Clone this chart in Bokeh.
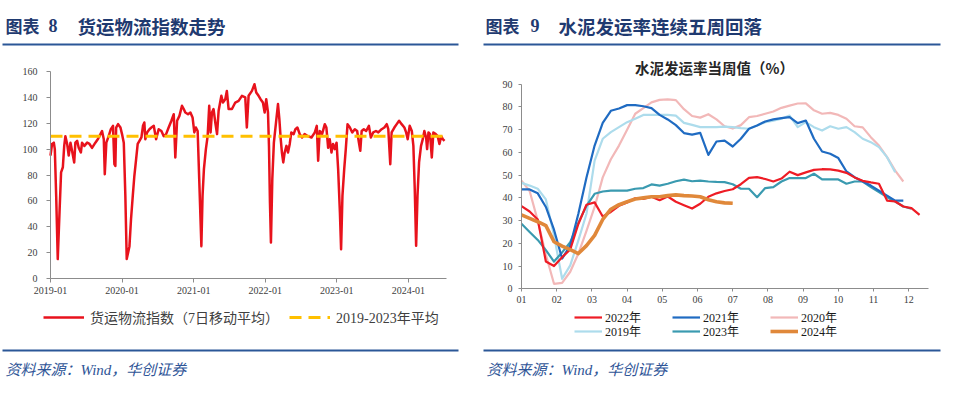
from datetime import datetime
from bokeh.plotting import figure
from bokeh.models import (Range1d, FixedTicker, Legend, LegendItem, SingleIntervalTicker,
                          LinearAxis, DatetimeAxis)
from bokeh.embed import file_html
from bokeh.resources import INLINE
from bokeh.core.properties import value

# ---------------- data: chart 8 (freight logistics index, 7-day MA) ----------------
freight_dates = [
    "2019-01-01", "2019-01-09", "2019-01-18", "2019-01-23", "2019-01-30", "2019-02-07", "2019-02-16", "2019-02-24",
    "2019-03-05", "2019-03-12", "2019-03-18", "2019-03-27", "2019-04-04", "2019-04-13", "2019-04-21", "2019-05-02",
    "2019-05-08", "2019-05-17", "2019-05-25", "2019-06-05", "2019-06-11", "2019-06-23", "2019-07-07", "2019-07-19",
    "2019-08-01", "2019-08-18", "2019-09-01", "2019-09-13", "2019-09-21", "2019-09-30", "2019-10-05", "2019-10-13",
    "2019-10-25", "2019-11-05", "2019-11-16", "2019-11-23", "2019-11-28", "2019-12-02", "2019-12-12", "2019-12-24",
    "2020-01-01", "2020-01-10", "2020-01-18", "2020-01-25", "2020-02-01", "2020-02-08", "2020-02-16", "2020-02-25",
    "2020-03-04", "2020-03-13", "2020-03-21", "2020-03-30", "2020-04-09", "2020-04-17", "2020-04-24", "2020-04-29",
    "2020-05-08", "2020-05-20", "2020-05-30", "2020-06-11", "2020-06-23", "2020-07-06", "2020-07-20", "2020-08-01",
    "2020-08-13", "2020-08-26", "2020-09-09", "2020-09-21", "2020-09-29", "2020-10-08", "2020-10-20", "2020-11-02",
    "2020-11-11", "2020-11-19", "2020-12-03", "2020-12-15", "2020-12-26",
    "2021-01-04", "2021-01-12", "2021-01-21", "2021-01-29", "2021-02-09", "2021-02-15", "2021-02-22", "2021-03-04",
    "2021-03-13", "2021-03-21", "2021-03-28", "2021-04-04", "2021-04-12", "2021-04-21", "2021-04-30", "2021-05-08",
    "2021-05-22", "2021-05-30", "2021-06-11", "2021-06-19", "2021-06-28", "2021-07-15", "2021-08-01", "2021-08-18",
    "2021-09-04", "2021-09-21", "2021-09-29", "2021-10-08", "2021-10-25", "2021-11-07", "2021-11-16", "2021-11-28",
    "2021-12-08", "2021-12-20", "2021-12-29",
    "2022-01-06", "2022-01-15", "2022-01-20", "2022-01-25", "2022-01-30", "2022-02-06", "2022-02-14", "2022-02-25",
    "2022-03-07", "2022-03-14", "2022-03-21", "2022-03-27", "2022-04-03", "2022-04-10", "2022-04-19", "2022-04-27",
    "2022-05-06", "2022-05-14", "2022-05-26", "2022-06-04", "2022-06-14", "2022-06-26", "2022-07-08", "2022-07-21",
    "2022-08-07", "2022-08-25", "2022-09-11", "2022-09-21", "2022-09-28", "2022-10-06", "2022-10-18", "2022-11-01",
    "2022-11-09", "2022-11-18", "2022-11-26", "2022-12-05", "2022-12-13", "2022-12-22", "2022-12-31",
    "2023-01-08", "2023-01-17", "2023-01-23", "2023-01-30", "2023-02-08", "2023-02-16", "2023-02-25", "2023-03-09",
    "2023-03-21", "2023-04-03", "2023-04-15", "2023-04-24", "2023-05-01", "2023-05-08", "2023-05-19", "2023-05-31",
    "2023-06-14", "2023-06-24", "2023-07-06", "2023-07-20", "2023-08-01", "2023-08-18", "2023-09-01", "2023-09-13",
    "2023-09-21", "2023-10-01", "2023-10-08", "2023-10-22", "2023-11-03", "2023-11-15", "2023-11-28", "2023-12-12",
    "2023-12-21", "2023-12-29",
    "2024-01-08", "2024-01-19", "2024-01-27", "2024-02-03", "2024-02-10", "2024-02-17", "2024-02-25", "2024-03-06",
    "2024-03-15", "2024-03-23", "2024-04-01", "2024-04-06", "2024-04-13", "2024-04-21", "2024-04-30", "2024-05-08",
    "2024-05-20", "2024-05-30", "2024-06-08", "2024-06-17", "2024-06-25", "2024-07-04",
]
freight_values = [
    95, 104, 105, 100, 64, 15, 51, 82,
    86, 102.5, 110, 104, 95, 105, 98.7, 89.7,
    105, 106.4, 101, 97.4, 105, 102.5, 105, 104,
    101, 105, 108, 111.6, 114, 107.7, 80.6, 105,
    110, 115.4, 118, 88.4, 87, 116.7, 119.3, 116.7,
    111.6, 105, 64, 15, 20, 25, 46, 64,
    79.4, 92.2, 104, 106.4, 109, 118, 120.6, 107.7,
    112.9, 115.4, 116.7, 118, 107.7, 115.4, 114, 110,
    111.6, 116.7, 121.9, 127, 93.5, 121.9, 125.7, 133.5,
    131, 128.3, 127, 128.3, 124.5,
    112.9, 116.7, 114, 76.8, 25, 64, 84.5, 100,
    110, 133.5, 112.9, 128.3, 131, 120.6, 111.6, 129.6,
    141.2, 136, 138.6, 145, 131, 131, 136, 137.3,
    141.2, 140, 116.7, 141.2, 145, 150.2, 143.8, 141.2,
    138.6, 136, 128.3,
    138.6, 128.3, 102.5, 58.7, 27.8, 76.8, 105, 120.6,
    134.8, 123.2, 107.7, 97.4, 89.7, 97.4, 102.5, 97.4,
    104, 112.9, 111.6, 115.4, 116.7, 111.6, 109, 111.6,
    110, 109, 112.9, 118, 91, 114, 111.6, 119.3,
    116.7, 101, 107.7, 97.4, 104, 100, 105,
    84.5, 51, 22.7, 64, 84.5, 100, 119.3, 116.7,
    112.9, 115.4, 114, 105, 98.7, 114, 115.4, 114,
    118, 109, 112.9, 114, 112.9, 115.4, 116.7, 119.3,
    115.4, 88.4, 112.9, 116.7, 119.3, 121.9, 119.3, 116.7,
    112.9, 107.7,
    118, 114, 102.5, 69, 25.3, 64, 89.7, 102.5,
    107.7, 114, 109, 100, 112.9, 111.6, 93.5, 112.9,
    111.6, 110, 104, 110, 107.7, 106.4,
]
avg_2019_2023 = 110
freight_tick_labels = ["2019-01", "2020-01", "2021-01", "2022-01", "2023-01", "2024-01"]
freight_x_start = "2019-01-01"
freight_x_end = "2024-07-14"
freight_y_max = 160

# ---------------- data: chart 9 (cement shipment rate, weekly, %) ----------------
month_labels = ["01", "02", "03", "04", "05", "06", "07", "08", "09", "10", "11", "12"]
cement_2022 = [36.4, 34, 30.5, 12, 10, 13.9, 17.3, 28.5, 37, 38,
               31.8, 33.8, 36.5, 38, 39.8, 39.5, 40.5, 39, 40.6, 38.3,
               36.8, 35.3, 37.4, 40.5, 42, 43, 43.8, 46, 48.8, 49.1,
               48.3, 47.2, 48.5, 51.5, 50, 51.2, 52.3, 52.6, 52.5, 52,
               51, 49, 47.5, 46.8, 46.2, 38.8, 38.4, 36.2, 35.5, 32.5]
cement_2021 = [43.7, 43.7, 42, 36, 26, 13.3, 19, 33, 49, 63,
               73, 78.3, 79.3, 80.8, 80.8, 80.3, 79.5, 76.5, 74.5, 72,
               68.5, 67.8, 68.6, 58.9, 64.8, 65.2, 62.6, 66, 70.4, 71.8,
               73.6, 74.5, 75.1, 75.5, 72.9, 74, 66, 60.4, 59.4, 57.5,
               51.6, 49.1, 47.2, 45.4, 43.2, 41, 38.8, 38.8]
cement_2020 = [47.6, 43, 30, 15, 2.2, 2.6, 7.5, 15.5, 25.5, 36,
               49, 57, 63, 70, 77, 79.5, 82, 83.1, 83.3, 83,
               79, 76, 75.3, 76.8, 74.5, 71.5, 70.5, 72, 75.5, 76,
               77, 78, 79.6, 80.6, 81.5, 81.6, 78.5, 77, 77.4, 76.5,
               74.8, 71.5, 71, 66.7, 63, 57.9, 52, 47.2]
cement_2019 = [46.6, 45.4, 44, 39.3, 23.5, 4.4, 10.3, 21.3, 33, 56.4,
               66, 68.9, 71.1, 73.3, 74.8, 76.5, 76.5, 76.5, 76.5, 76.2,
               73, 72.1, 71.1, 71.1, 71.1, 71.3, 71.1, 70.7, 70.4, 71.8,
               73.3, 74, 74.8, 76.2, 71.1, 73.3, 71.1, 69.6, 71.5, 70.4,
               71.1, 68.9, 66, 64.5, 62.3, 57.9, 51.3]
cement_2023 = [28.6, 25, 21.5, 17, 12, 16, 20.5, 29, 36.5, 41.8,
               42.8, 43.2, 43.2, 43.2, 44, 44.3, 45.9, 45.4, 46.2, 47.3,
               48, 47.3, 47.6, 47.2, 47, 46.9, 46, 44, 44, 40.3,
               44.3, 44.7, 47.2, 48.7, 48.7, 48.7, 50.6, 48.1, 48.1, 48.1,
               46.2, 47.2, 47.2, 44.7, 42.5, 40.3, 38.4, 36.2, 35.2]
cement_2024 = [32.5, 31, 29.5, 27.8, 20.7, 18.8, 17.2, 15.5, 19, 23.5,
               30.5, 35, 37, 38.3, 39.5, 40, 40.5, 40.5, 41, 41.3,
               41, 40.8, 40.5, 39.2, 38.3, 37.8, 37.6]
weeks_per_year = 52
cement_x_max = 50.1   # weeks shown on the axis
cement_y_max = 90

# ---------------- page layout (pixels) ----------------
W, H = 956, 390
L_FRAME = (50, 446, 278, 71)       # left, right, bottom, top of chart 8 plot area
R_FRAME = (521, 928, 288.3, 83.7)  # chart 9 plot area

NAVY = "#1F3A70"
RULE = "#2B5797"
SRC = "#2F5597"
AXIS = "#8C8C8C"
TICKTXT = "#404040"
SERIF = "Liberation Serif, Noto Sans CJK SC"
CJK = "Noto Sans CJK SC"


def to_ms(d):
    return (d - datetime(1970, 1, 1)).total_seconds() * 1000.0


def x_range_for(a, b, frame):
    pa, pb = frame[0], frame[1]
    k = (b - a) / (pb - pa)
    return Range1d(start=a + (0 - pa) * k, end=a + (W - pa) * k)


def y_range_for(a, b, frame):
    pa, pb = frame[2], frame[3]
    k = (b - a) / (pb - pa)
    return Range1d(start=a + (H - pa) * k, end=a + (0 - pa) * k)


p = figure(width=W, height=H, x_range=Range1d(0, W), y_range=Range1d(H, 0),
           x_axis_type=None, y_axis_type=None, output_backend="svg", toolbar_location=None,
           min_border=0)
p.outline_line_color = None
p.background_fill_color = "white"
p.border_fill_color = "white"


# ---------- headers & footers ----------
def header(word, num, title, word_x, num_x, title_x, x0, x1):
    p.text(x=[word_x], y=[25], text=[word], text_font=value(CJK), text_font_style="bold",
           text_font_size="17px", text_color=NAVY, text_baseline="middle")
    p.text(x=[num_x], y=[25], text=[num], text_font=value(SERIF), text_font_style="bold",
           text_font_size="18px", text_color=NAVY, text_baseline="middle")
    p.text(x=[title_x], y=[25], text=[title], text_font=value(CJK), text_font_style="bold",
           text_font_size="18.5px", text_color=NAVY, text_baseline="middle")
    p.segment(x0=[x0], y0=[44], x1=[x1], y1=[44], line_color=RULE, line_width=2)


def footer(text_x, x0, x1):
    p.segment(x0=[x0], y0=[350], x1=[x1], y1=[350], line_color=RULE, line_width=2)
    p.text(x=[text_x], y=[369], text=["资料来源：Wind，华创证券"], text_font=value(SERIF),
           text_font_style="italic", text_font_size="15px", text_color=SRC, text_baseline="middle")


header("图表", "8", "货运物流指数走势", 5, 48, 77, 2, 458)
header("图表", "9", "水泥发运率连续五周回落", 485, 530, 558, 483, 940)
footer(5, 2, 458)
footer(486, 483, 940)
p.text(x=[714], y=[67], text=["水泥发运率当周值（%）"], text_font=value(CJK), text_font_style="bold",
       text_font_size="14.5px", text_color="#262626", text_baseline="middle", text_align="center")


def style_axis(ax, tick_out, standoff):
    ax.axis_line_color = AXIS
    ax.major_tick_line_color = AXIS
    ax.minor_tick_line_color = None
    ax.major_tick_in = 0
    ax.major_tick_out = tick_out
    ax.major_label_text_font = SERIF
    ax.major_label_text_font_size = "10px"
    ax.major_label_text_color = TICKTXT
    ax.major_label_standoff = standoff


# ---------- chart 8 ----------
fd = [datetime.strptime(d, "%Y-%m-%d") for d in freight_dates]
x0_ms = to_ms(datetime.strptime(freight_x_start, "%Y-%m-%d"))
x1_ms = to_ms(datetime.strptime(freight_x_end, "%Y-%m-%d"))
p.extra_x_ranges["dL"] = x_range_for(x0_ms, x1_ms, L_FRAME)
p.extra_y_ranges["vL"] = y_range_for(0, freight_y_max, L_FRAME)
tick_ms = [to_ms(datetime.strptime(t, "%Y-%m")) for t in freight_tick_labels]

axLx = DatetimeAxis(x_range_name="dL", y_range_name="vL", fixed_location=0, bounds=(x0_ms, x1_ms),
                    ticker=FixedTicker(ticks=tick_ms))
axLx.major_label_overrides = {ms: lab for ms, lab in zip(tick_ms, freight_tick_labels)}
style_axis(axLx, 4, 4)
p.add_layout(axLx, "below")
axLy = LinearAxis(x_range_name="dL", y_range_name="vL", fixed_location=x0_ms, bounds=(0, freight_y_max),
                  ticker=SingleIntervalTicker(interval=20))
style_axis(axLy, 4, 9)
p.add_layout(axLy, "left")

r_main = p.line(fd, freight_values, x_range_name="dL", y_range_name="vL",
                line_color="#E8121C", line_width=2.5, line_join="round")
r_avg = p.line([x0_ms, x1_ms], [avg_2019_2023, avg_2019_2023], x_range_name="dL", y_range_name="vL",
               line_color="#FFC000", line_width=3, line_dash="12 7")

legL = Legend(items=[LegendItem(label="货运物流指数（7日移动平均）", renderers=[r_main]),
                     LegendItem(label="2019-2023年平均", renderers=[r_avg])],
              location=(43, H - 327), orientation="horizontal")
legL.background_fill_alpha = 0
legL.border_line_color = None
legL.padding = 0
legL.margin = 0
legL.spacing = 10
legL.label_standoff = 6
legL.glyph_width = 41
legL.glyph_height = 14
legL.label_height = 14
legL.label_text_font = SERIF
legL.label_text_font_size = "14px"
legL.label_text_color = TICKTXT
p.add_layout(legL)

# ---------- chart 9 ----------
p.extra_x_ranges["wR"] = x_range_for(0, cement_x_max, R_FRAME)
p.extra_y_ranges["vR"] = y_range_for(0, cement_y_max, R_FRAME)
month_ticks = [i * weeks_per_year / 12 for i in range(len(month_labels))]

axRx = LinearAxis(x_range_name="wR", y_range_name="vR", fixed_location=0, bounds=(0, cement_x_max),
                  ticker=FixedTicker(ticks=month_ticks))
axRx.major_label_overrides = {t: lab for t, lab in zip(month_ticks, month_labels)}
style_axis(axRx, 3, 4)
p.add_layout(axRx, "below")
axRy = LinearAxis(x_range_name="wR", y_range_name="vR", fixed_location=0, bounds=(0, cement_y_max),
                  ticker=SingleIntervalTicker(interval=10))
style_axis(axRy, 3, 5)
p.add_layout(axRy, "left")

series = [
    ("2020年", cement_2020, "#F2B8B8", 2.2),
    ("2019年", cement_2019, "#ADDCEC", 2.2),
    ("2023年", cement_2023, "#3A9AB0", 2.2),
    ("2021年", cement_2021, "#1F6BC2", 2.2),
    ("2022年", cement_2022, "#EE1C25", 2.2),
    ("2024年", cement_2024, "#E0883A", 3.6),
]
rends = {}
for name, vals, col, lw in series:
    rends[name] = p.line(list(range(len(vals))), vals, x_range_name="wR", y_range_name="vR",
                         line_color=col, line_width=lw, line_join="round")


def make_leg(names, loc):
    lg = Legend(items=[LegendItem(label=n, renderers=[rends[n]]) for n in names],
                location=loc, orientation="horizontal")
    lg.background_fill_alpha = 0
    lg.border_line_color = None
    lg.padding = 0
    lg.margin = 0
    lg.spacing = 31
    lg.label_standoff = 3
    lg.glyph_width = 28
    lg.glyph_height = 12
    lg.label_height = 12
    lg.label_text_font = SERIF
    lg.label_text_font_size = "12px"
    lg.label_text_color = "#1A1A1A"
    return lg


p.add_layout(make_leg(["2022年", "2021年", "2020年"], (574, H - 326)))
p.add_layout(make_leg(["2019年", "2023年", "2024年"], (574, H - 340)))

open("out.html", "w").write(file_html(p, INLINE))
